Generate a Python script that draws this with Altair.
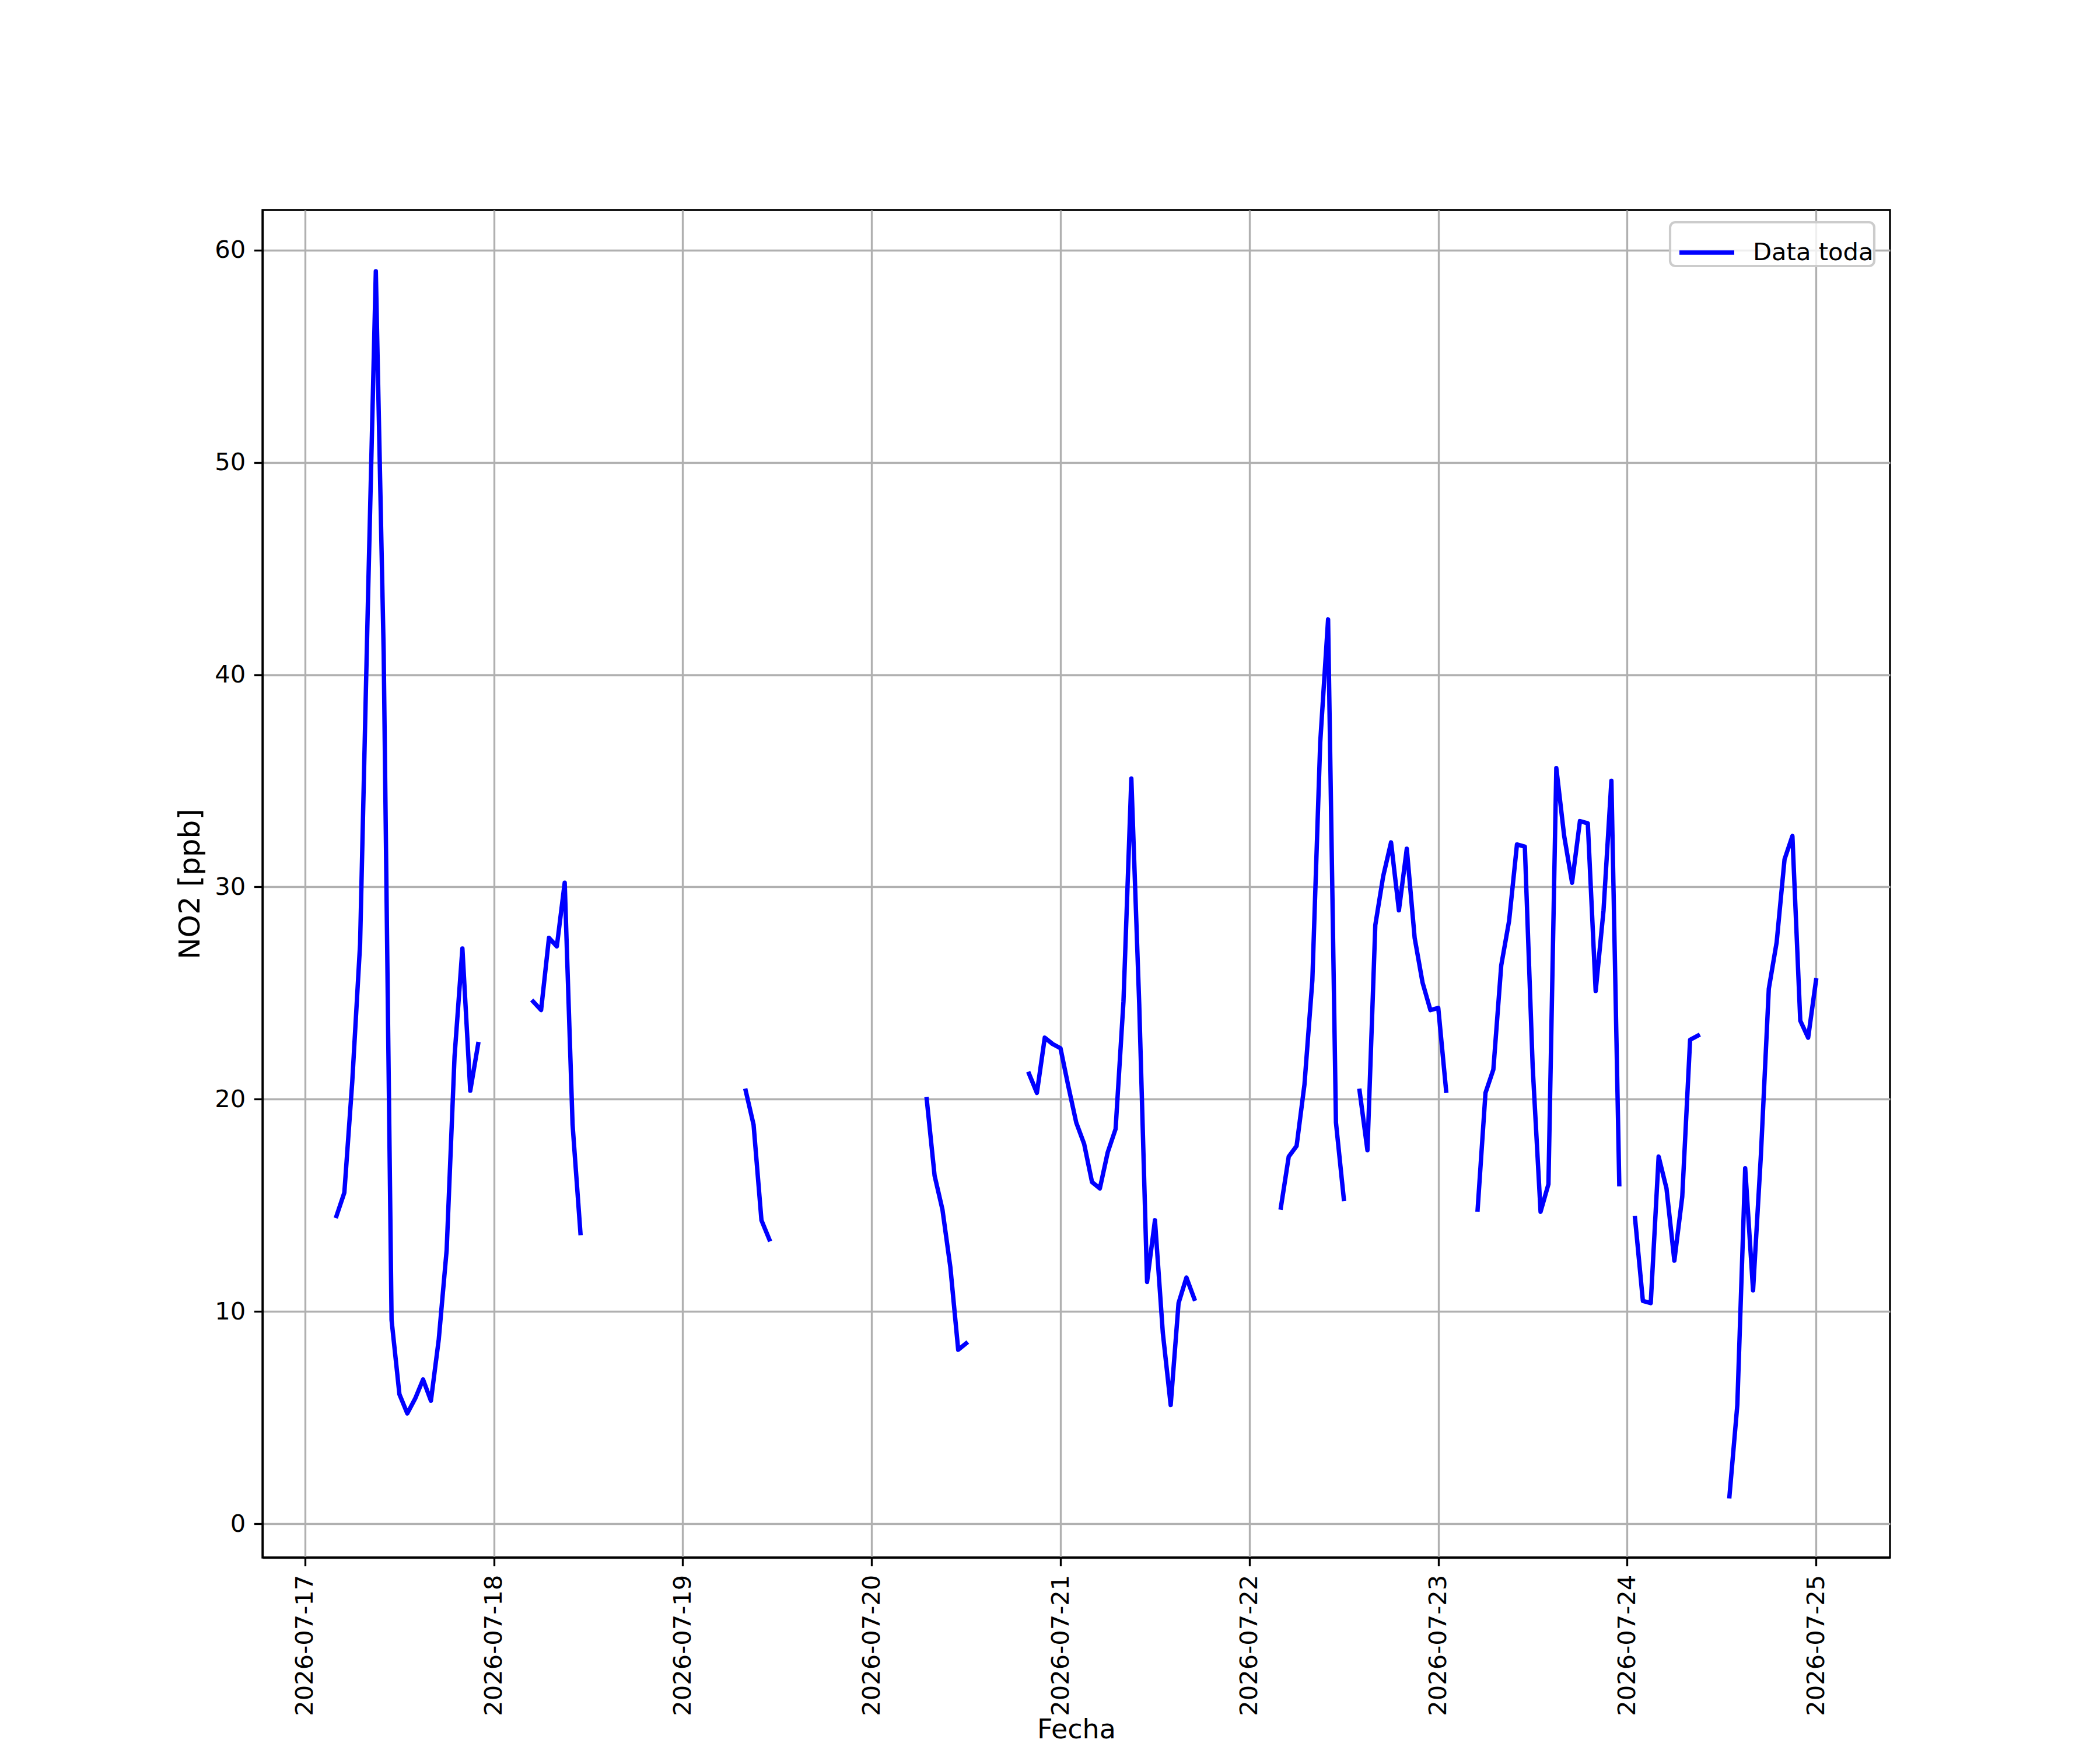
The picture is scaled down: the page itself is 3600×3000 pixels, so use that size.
import altair as alt
import pandas as pd

# Segment start times (hourly data, gaps between segments)
seg_starts = [
    "2026-07-17T04:00:00",
    "2026-07-18T05:00:00",
    "2026-07-19T08:00:00",
    "2026-07-20T07:00:00",
    "2026-07-20T20:00:00",
    "2026-07-22T04:00:00",
    "2026-07-22T14:00:00",
    "2026-07-23T05:00:00",
    "2026-07-24T01:00:00",
    "2026-07-24T13:00:00",
]

seg1 = [14.5, 15.6, 20.8, 27.3, 43.5, 59.0, 41.0, 9.6, 6.1, 5.2, 5.9, 6.8, 5.8, 8.7, 12.9, 22.0, 27.1, 20.4, 22.6]
seg2 = [24.6, 24.2, 27.6, 27.2, 30.2, 18.8, 13.7]
seg3 = [20.4, 18.8, 14.3, 13.4]
seg4 = [20.0, 16.4, 14.8, 12.1, 8.2, 8.5]
seg5 = [21.2, 20.3, 22.9, 22.6, 22.4, 20.6, 18.9, 17.9, 16.1, 15.8, 17.5, 18.6, 24.6, 35.1, 24.5, 11.4, 14.3, 9.0, 5.6, 10.4, 11.6, 10.6]
seg6 = [14.9, 17.3, 17.8, 20.7, 25.6, 36.8, 42.6, 18.9, 15.3]
seg7 = [20.4, 17.6, 28.2, 30.5, 32.1, 28.9, 31.8, 27.6, 25.5, 24.2, 24.3, 20.4]
seg8 = [14.8, 20.3, 21.4, 26.3, 28.4, 32.0, 31.9, 21.5, 14.7, 16.0, 35.6, 32.4, 30.2, 33.1, 33.0, 25.1, 28.9, 35.0, 16.0]
seg9 = [14.4, 10.5, 10.4, 17.3, 15.8, 12.4, 15.4, 22.8, 23.0]
seg10 = [1.3, 5.6, 16.75, 11.0, 17.4, 25.2, 27.4, 31.3, 32.4, 23.7, 22.9, 25.6]
seg_values = [seg1, seg2, seg3, seg4, seg5, seg6, seg7, seg8, seg9, seg10]

day_ticks = list(range(17, 26))
y_ticks = [0, 10, 20, 30, 40, 50, 60]
series_name = "Data toda"

rows = []
for i, (start, vals) in enumerate(zip(seg_starts, seg_values)):
    t0 = pd.Timestamp(start)
    for k, v in enumerate(vals):
        rows.append({
            "fecha": (t0 + pd.Timedelta(hours=k)).strftime("%Y-%m-%dT%H:%M:%S"),
            "no2": v,
            "seg": i,
            "serie": series_name,
        })
df = pd.DataFrame(rows)

FONT = "DejaVu Sans"
PT = 300 / 72.0
LW = 7.5

chart = alt.Chart(df).mark_line(
    strokeWidth=LW, strokeCap="square", strokeJoin="round"
).encode(
    x=alt.X(
        "fecha:T",
        title="Fecha",
        scale=alt.Scale(
            domain=[
                alt.DateTime(year=2026, month=7, date=16, hours=18, minutes=36),
                alt.DateTime(year=2026, month=7, date=25, hours=9, minutes=24),
            ],
            nice=False,
        ),
        axis=alt.Axis(
            values=[alt.DateTime(year=2026, month=7, date=d) for d in day_ticks],
            format="%Y-%m-%d",
            labelAngle=270,
            labelAlign="right",
            labelBaseline="middle",
            titleBaseline="alphabetic",
            titleY=309,
            titleX=1395,
            titleAlign="center",
            titleFontSize=46,
        ),
    ),
    y=alt.Y(
        "no2:Q",
        title="NO2 [ppb]",
        scale=alt.Scale(domain=[-1.585, 61.885], nice=False, zero=False),
        axis=alt.Axis(values=y_ticks, format="d", titlePadding=16),
    ),
    color=alt.Color(
        "serie:N",
        scale=alt.Scale(range=["#0000ff"]),
        legend=alt.Legend(
            title=None,
            orient="none",
            legendX=2413,
            legendY=21,
            symbolType="stroke",
            symbolStrokeWidth=LW,
            symbolSize=8836,
            symbolOffset=11,
            labelFont=FONT,
            labelFontSize=10 * PT,
            labelColor="black",
            labelOffset=28,
            labelLimit=0,
            labelExpr="datum.label + '\u2002'",
            padding=1,
            fillColor="rgba(255,255,255,0.8)",
            strokeColor="#cccccc",
            cornerRadius=9,
        ),
    ),
    detail="seg:N",
).properties(
    width=2790,
    height=2310,
    autosize=alt.AutoSizeParams(type="none"),
    padding={"left": 442, "top": 352, "right": 352, "bottom": 322},
).configure_axis(
    labelFont=FONT,
    labelFontSize=10 * PT,
    labelColor="black",
    labelLimit=0,
    titleFont=FONT,
    titleFontSize=12 * PT,
    titleFontWeight="normal",
    titleColor="black",
    tickColor="black",
    tickSize=3.5 * PT,
    tickWidth=0.8 * PT,
    domainColor="black",
    domainWidth=0.8 * PT,
    gridColor="#b0b0b0",
    gridWidth=0.8 * PT,
    labelPadding=3.5 * PT,
    labelFlush=False,
    labelOverlap=False,
).configure_view(
    stroke="black", strokeWidth=0.8 * PT
).configure_legend(
    strokeWidth=1.0 * PT
)

chart.save("out.html", embed_options={"renderer": "svg", "actions": False})
